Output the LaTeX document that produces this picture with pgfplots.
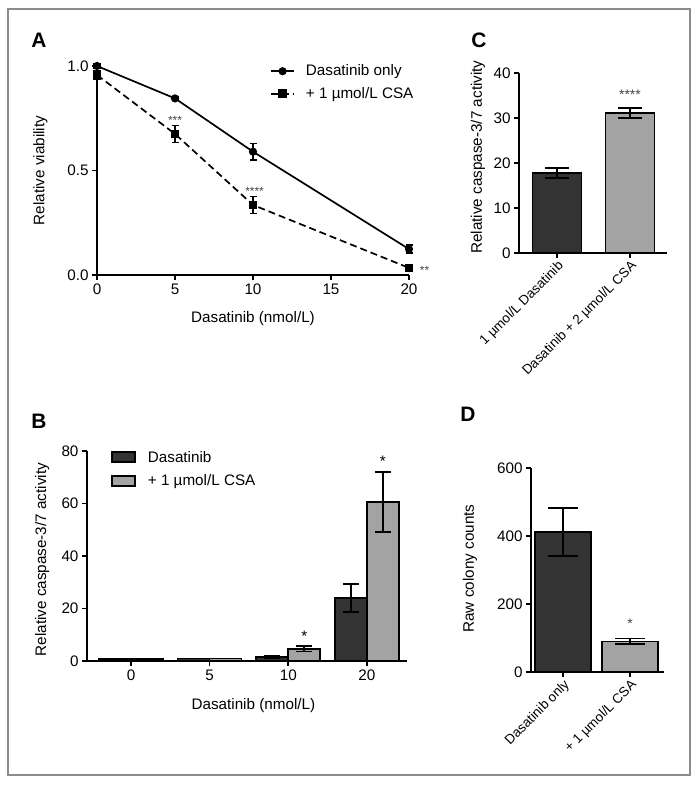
\documentclass[border=0pt]{standalone}
\usepackage{fontspec}
\setmainfont{Liberation Sans}
\usepackage{pgfplots}
\pgfplotsset{compat=1.18}
\definecolor{darkbar}{HTML}{333333}
\definecolor{lightbar}{HTML}{A3A3A3}
\definecolor{framegray}{HTML}{8C8C8C}
\definecolor{stargray}{HTML}{444444}
\newcommand{\fs}[1]{\fontsize{#1}{#1}\selectfont}
\pgfplotsset{
  gp/.style={
    scale only axis,
    axis x line*=bottom, axis y line*=left,
    axis line style={line width=1.6bp, -, black},
    tick style={black, line width=1.6bp},
    tick align=outside,
    major tick length=5bp,
    tick label style={font=\fs{15.3}},
    label style={font=\fs{15.3}},
    /pgf/number format/assume math mode=true,
    clip=false,
  }
}
\begin{document}
\begin{tikzpicture}
\useasboundingbox (0bp,0bp) rectangle (699bp,785bp);
\draw[framegray, line width=1.6bp] (8bp,10bp) rectangle (690bp,776bp);

% ---------------- Panel A ----------------
\node[font=\bfseries\fs{21}] at (39bp,744.5bp) {A};
\begin{axis}[gp, at={(97bp,510bp)}, anchor=south west, width=312bp, height=209bp,
  xmin=0, xmax=20, ymin=0, ymax=1,
  xtick={0,5,10,15,20}, ytick={0,0.5,1},
  yticklabel style={/pgf/number format/.cd, fixed, fixed zerofill, precision=1},
  xlabel={Dasatinib (nmol/L)}, ylabel={Relative viability},
  x label style={at={(axis description cs:0.5,-0.21)}, anchor=center},
  y label style={at={(axis description cs:-0.181,0.5)}, anchor=center},
  legend style={draw=none, fill=none, at={(axis description cs:0.545,1.025)}, anchor=north west, font=\fs{15.3}, row sep=6bp,
    /tikz/every odd column/.append style={column sep=9bp}},
  legend cell align=left,
  legend image code/.code={\draw[mark repeat=2,mark phase=2,#1] plot coordinates {(0bp,0bp) (11.5bp,0bp) (23bp,0bp)};},
]
\addplot[black, line width=1.7bp, mark=*, mark size=3.2bp,
  error bars/.cd, y dir=both, y explicit,
  error bar style={line width=1.5bp},
  error mark options={rotate=90, black, mark size=3.5bp, line width=1.5bp}]
  coordinates {(0,1.0) +- (0,0.01) (5,0.845) +- (0,0.006) (10,0.59) +- (0,0.04) (20,0.124) +- (0,0.019)};
\addlegendentry{Dasatinib only}
\addplot[black, line width=1.7bp, dash pattern=on 7bp off 4bp, mark=square*, mark size=3.4bp, mark options={solid},
  error bars/.cd, y dir=both, y explicit,
  error bar style={line width=1.5bp, solid},
  error mark options={rotate=90, black, mark size=3.5bp, line width=1.5bp, solid}]
  coordinates {(0,0.957) +- (0,0.02) (5,0.675) +- (0,0.04) (10,0.335) +- (0,0.04) (20,0.034) +- (0,0.005)};
\addlegendentry{+ 1 µmol/L CSA}
\node[font=\fs{12}, text=stargray] at (axis cs:5,0.742) {***};
\node[font=\fs{12}, text=stargray] at (axis cs:10.1,0.402) {****};
\node[font=\fs{12}, text=stargray] at (axis cs:21.0,0.024) {**};
\end{axis}

% ---------------- Panel C ----------------
\node[font=\bfseries\fs{21}] at (479bp,744.5bp) {C};
\begin{axis}[gp, at={(519bp,532bp)}, anchor=south west, width=148bp, height=180bp,
  xmin=-0.52, xmax=1.507, ymin=0, ymax=40, ytick={0,10,20,30,40},
  xtick={0,1}, xticklabels={1 µmol/L Dasatinib, Dasatinib + 2 µmol/L CSA},
  x tick label style={rotate=45, anchor=north east, font=\fs{13.5}, inner sep=1bp},
  ylabel={Relative caspase-3/7 activity},
  y label style={at={(axis description cs:-0.277,0.533)}, anchor=center},
]
\addplot[ybar, bar width=49bp, bar shift=0pt, fill=darkbar, draw=black, line width=1.6bp,
  error bars/.cd, y dir=both, y explicit,
  error bar style={line width=1.6bp},
  error mark options={rotate=90, black, mark size=12bp, line width=1.6bp}]
  coordinates {(0,17.8) +- (0,1.1)};
\addplot[ybar, bar width=49bp, bar shift=0pt, fill=lightbar, draw=black, line width=1.6bp,
  error bars/.cd, y dir=both, y explicit,
  error bar style={line width=1.6bp},
  error mark options={rotate=90, black, mark size=12bp, line width=1.6bp}]
  coordinates {(1,31.1) +- (0,1.15)};
\node[font=\fs{14}, text=stargray] at (axis cs:1,35.2) {****};
\end{axis}

% ---------------- Panel B ----------------
\node[font=\bfseries\fs{21}] at (39bp,363.5bp) {B};
\begin{axis}[gp, at={(87bp,124bp)}, anchor=south west, width=320bp, height=210bp,
  xmin=-0.56, xmax=3.51, ymin=0, ymax=80,
  ybar=0pt, bar width=32bp,
  xtick={0,1,2,3}, xticklabels={0,5,10,20}, ytick={0,20,40,60,80},
  xlabel={Dasatinib (nmol/L)}, ylabel={Relative caspase-3/7 activity},
  x label style={at={(axis description cs:0.52,-0.21)}, anchor=center},
  y label style={at={(axis description cs:-0.14,0.483)}, anchor=center},
  legend style={draw=none, fill=none, at={(axis description cs:0.066,1.02)}, anchor=north west, font=\fs{15.3}, row sep=7bp,
    /tikz/every odd column/.append style={column sep=10bp}},
  legend cell align=left,
]
\addplot[fill=darkbar, draw=black, line width=1.6bp,
  legend image code/.code={\draw[fill=darkbar, draw=black, line width=1.6bp] (0bp,-5bp) rectangle (23bp,5bp);},
  error bars/.cd, y dir=both, y explicit,
  error bar style={line width=1.6bp},
  error mark options={rotate=90, black, mark size=8bp, line width=1.6bp}]
  coordinates {(0,0.8) +- (0,0) (1,1.0) +- (0,0) (2,1.5) +- (0,0.35) (3,24.0) +- (0,5.4)};
\addlegendentry{Dasatinib}
\addplot[fill=lightbar, draw=black, line width=1.6bp,
  legend image code/.code={\draw[fill=lightbar, draw=black, line width=1.6bp] (0bp,-5bp) rectangle (23bp,5bp);},
  error bars/.cd, y dir=both, y explicit,
  error bar style={line width=1.6bp},
  error mark options={rotate=90, black, mark size=8bp, line width=1.6bp}]
  coordinates {(0,0.7) +- (0,0) (1,1.0) +- (0,0) (2,4.6) +- (0,1.0) (3,60.6) +- (0,11.4)};
\addlegendentry{+ 1 µmol/L CSA}
\node[font=\fs{15.3}] at (axis cs:2.203,9.5) {*};
\node[font=\fs{15.3}] at (axis cs:3.203,76.2) {*};
\end{axis}

% ---------------- Panel D ----------------
\node[font=\bfseries\fs{21}] at (468bp,370.5bp) {D};
\begin{axis}[gp, at={(531bp,113bp)}, anchor=south west, width=133bp, height=204bp,
  xmin=-0.478, xmax=1.507, ymin=0, ymax=600, ytick={0,200,400,600},
  xtick={0,1}, xticklabels={Dasatinib only, + 1 µmol/L CSA},
  x tick label style={rotate=45, anchor=north east, font=\fs{13.5}, inner sep=1bp},
  ylabel={Raw colony counts},
  y label style={at={(axis description cs:-0.459,0.507)}, anchor=center},
]
\addplot[ybar, bar width=56bp, bar shift=0pt, fill=darkbar, draw=black, line width=1.6bp,
  error bars/.cd, y dir=both, y explicit,
  error bar style={line width=1.6bp},
  error mark options={rotate=90, black, mark size=15bp, line width=1.6bp}]
  coordinates {(0,412) +- (0,70)};
\addplot[ybar, bar width=56bp, bar shift=0pt, fill=lightbar, draw=black, line width=1.6bp,
  error bars/.cd, y dir=both, y explicit,
  error bar style={line width=1.6bp},
  error mark options={rotate=90, black, mark size=15bp, line width=1.6bp}]
  coordinates {(1,90) +- (0,8)};
\node[font=\fs{14}, text=stargray] at (axis cs:1,141) {*};
\end{axis}
\end{tikzpicture}
\end{document}
